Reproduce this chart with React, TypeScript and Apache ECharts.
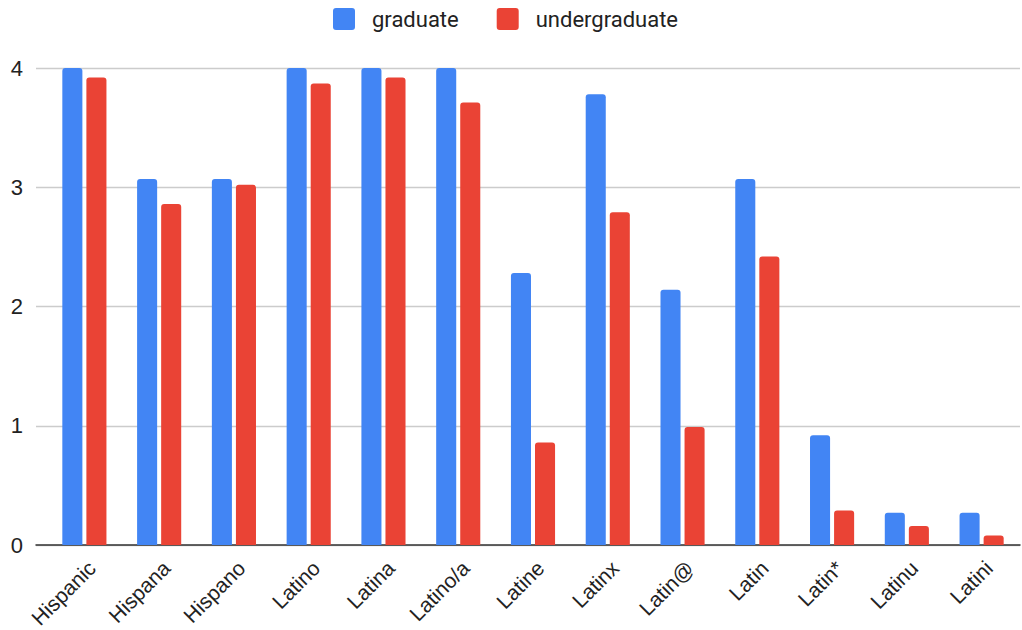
import React, { useEffect, useRef } from "react";
import * as echarts from "echarts";

const categories = [
  "Hispanic", "Hispana", "Hispano", "Latino", "Latina", "Latino/a", "Latine",
  "Latinx", "Latin@", "Latin", "Latin*", "Latinu", "Latini",
];
const graduate = [4, 3.07, 3.07, 4, 4, 4, 2.28, 3.78, 2.14, 3.07, 0.92, 0.27, 0.27];
const undergraduate = [3.92, 2.86, 3.02, 3.87, 3.92, 3.71, 0.86, 2.79, 0.99, 2.42, 0.29, 0.16, 0.08];
const yTicks = { min: 0, max: 4, interval: 1 };

const FONT = "'Liberation Sans', Arial, sans-serif";
// small rounded square used as the legend marker
const LEGEND_ICON =
  "path://M3,0 H19 Q22,0 22,3 V19 Q22,22 19,22 H3 Q0,22 0,19 V3 Q0,0 3,0 Z";

export default function App() {
  const ref = useRef<HTMLDivElement>(null);

  useEffect(() => {
    if (!ref.current) return;
    const chart = echarts.init(ref.current, null, { renderer: "svg" });
    chart.setOption({
      animation: false,
      legend: {
        top: 8,
        left: 333,
        padding: 0,
        itemWidth: 22,
        itemHeight: 22,
        itemGap: 38,
        icon: LEGEND_ICON,
        textStyle: { fontFamily: "Roboto, sans-serif", fontSize: 22, color: "#222", padding: [0, 0, 0, 12] },
        data: ["graduate", "undergraduate"],
      },
      grid: [
        // background grid: gridlines, value labels and baseline
        { left: 36, right: 2, top: 68, bottom: 85, outerBoundsMode: "none", containLabel: false },
        // bars
        { left: 47, right: 3, top: 68, bottom: 85, outerBoundsMode: "none", containLabel: false },
      ],
      xAxis: [
        {
          gridIndex: 0,
          type: "value",
          min: 0,
          max: 1,
          axisLine: { show: true, lineStyle: { color: "#333", width: 1.5 } },
          axisTick: { show: false },
          axisLabel: { show: false },
          splitLine: { show: false },
        },
        {
          gridIndex: 1,
          type: "category",
          data: categories,
          axisLine: { show: false },
          axisTick: { show: false },
          axisLabel: {
            rotate: 45,
            margin: 12,
            interval: 0,
            verticalAlign: "top",
            fontFamily: FONT,
            fontSize: 21,
            color: "#222",
          },
        },
      ],
      yAxis: [
        {
          gridIndex: 0,
          type: "value",
          ...yTicks,
          axisLine: { show: false },
          axisTick: { show: false },
          axisLabel: { margin: 13, fontFamily: FONT, fontSize: 22, color: "#222" },
          splitLine: { lineStyle: { color: "#cccccc", width: 1.3 } },
        },
        {
          gridIndex: 1,
          type: "value",
          ...yTicks,
          show: false,
          splitLine: { show: false },
        },
      ],
      series: [
        {
          name: "graduate",
          type: "bar",
          xAxisIndex: 1,
          yAxisIndex: 1,
          data: graduate,
          barGap: "20%",
          barCategoryGap: "41%",
          itemStyle: { color: "#4285F4", borderRadius: [3, 3, 0, 0] },
        },
        {
          name: "undergraduate",
          type: "bar",
          xAxisIndex: 1,
          yAxisIndex: 1,
          data: undergraduate,
          barGap: "20%",
          barCategoryGap: "41%",
          itemStyle: { color: "#EA4335", borderRadius: [3, 3, 0, 0] },
        },
      ],
    });
    return () => chart.dispose();
  }, []);

  return (
    <div
      ref={ref}
      style={{ position: "fixed", left: 0, top: 0, width: 1022, height: 630, background: "#fff" }}
    />
  );
}
